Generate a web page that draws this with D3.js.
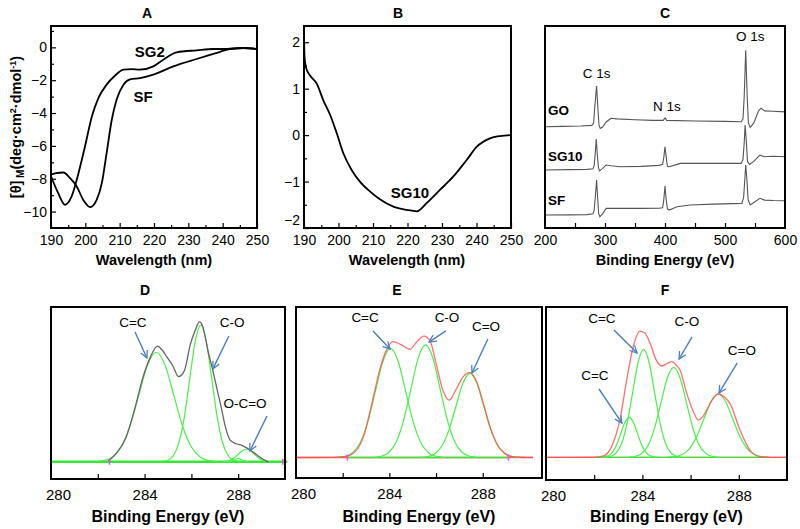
<!DOCTYPE html>
<html><head><meta charset="utf-8">
<script src="https://cdn.jsdelivr.net/npm/d3@7"></script>
<style>
body{margin:0;background:#fff}
text{font-family:"Liberation Sans",Arial,Helvetica,sans-serif;fill:#000}
</style>
</head><body>
<svg id="c" width="800" height="529"></svg>
<script>
// ---------------- DATA ----------------
// Panel A: CD spectra
const wavelengthTicks = [190,200,210,220,230,240,250];
const wavelengthMinor = [195,205,215,225,235,245];
const aYTicks = [-10,-8,-6,-4,-2,0];
const aYMinor = [-9,-7,-5,-3,-1,1];
const cdSF = [[190,-7.76],[191.5,-7.66],[193.6,-7.62],[195.5,-7.95],[197.5,-8.47],[199.4,-9.29],[201.4,-9.73],[203.3,-9.29],[204.8,-8.27],[206.2,-6.44],[207.7,-4.41],[209.1,-3.19],[211.1,-2.27],[213.0,-1.95],[215.9,-1.87],[219.8,-1.66],[225.6,-1.16],[232.4,-0.71],[238.3,-0.34],[242.1,-0.1],[246.0,-0.04],[250,-0.1]];
const cdSG2 = [[190,-7.85],[192.1,-8.88],[194.1,-9.59],[196.0,-9.08],[198.0,-7.66],[199.9,-6.04],[201.9,-4.21],[203.8,-3.09],[206.2,-2.27],[208.6,-1.73],[211.1,-1.36],[213.5,-1.32],[215.9,-1.36],[219.8,-1.16],[222.7,-0.75],[226.6,-0.3],[232.4,-0.18],[237.3,-0.1],[241.2,-0.1],[246,-0.04],[250,-0.1]];
const aLabels = [["SG2",218.8,-0.26],["SF",216.8,-3.0]];
// Panel B
const bYTicks = [-2,-1,0,1,2];
const bYMinor = [-1.5,-0.5,0.5,1.5];
const cdSG10 = [[190.0,2.2],[190.15,1.7],[190.6,1.45],[191.7,1.29],[193.7,1.11],[195.6,0.75],[197.5,0.45],[199.5,0.04],[201.4,-0.39],[203.8,-0.75],[206.2,-1.0],[209.1,-1.21],[212.0,-1.38],[215.9,-1.54],[219.8,-1.61],[222.7,-1.64],[225.6,-1.46],[229.4,-1.18],[233.3,-0.89],[237.2,-0.53],[240.1,-0.25],[243.9,-0.07],[246.8,-0.02],[250,0.0]];
const bLabels = [["SG10",220.7,-1.24]];
// Panel C: XPS survey
const surveyTicks = [250,300,350,400,450,500,550];
const surveyLabelTicks = [200,300,400,500,600];
const surveyGO = [[200,50.1],[230,50.3],[260,50.5],[278,50.8],[281,52],[283,60],[286,70.3],[288,60],[290,51],[292,49.3],[296,50],[302,52.5],[310,54.3],[320,54],[350,53.6],[380,53.3],[397,53.3],[400,54.5],[403,53.3],[450,53],[500,52.8],[527,52.6],[530,54],[532,65],[534.5,88],[537,65],[539,52],[542,49.8],[548,52],[556,58],[560,59.3],[566,58],[580,57.8],[600,57.5]];
const surveySG10 = [[200,28.7],[240,28.9],[270,29],[280,29.3],[282,31],[284,38],[285.5,44.1],[287,37],[289,30],[291,28.3],[296,29.5],[302,31.2],[310,30.8],[325,30.3],[360,30.5],[390,31],[396,31.5],[398,35],[400,40.2],[402,35],[404,30.5],[407,30.3],[420,31.5],[425,32],[460,32],[492,32],[527,32],[530,34],[532,42],[533.5,51],[535.5,43],[537.5,33],[541,31.5],[548,33],[558,36.1],[565,35.3],[580,35.5],[600,35.3]];
const surveySF = [[200,6.4],[240,6.5],[270,6.6],[280,7],[282,9],[284,16],[286,23.8],[287.5,16],[289.5,7],[291.5,5.6],[296,7],[302,9.7],[310,9.8],[325,9.7],[360,9.7],[390,9.8],[396,10],[398,14],[400,20.8],[402,14],[404,9.5],[407,8.9],[420,10.5],[442,11.4],[480,11.8],[528,12.2],[531,15],[533,24],[534.5,31.2],[536.5,24],[538.5,14],[542,11.4],[550,13],[558,14.7],[566,13.8],[580,13.6],[600,13.5]];
const surveyNames = [["GO",205,58.4],["SG10",205,35.6],["SF",205,13.9]];
const surveyPeaks = [["C 1s",286,76.7],["N 1s",403,60.4],["O 1s",542,95]];
// Panels D-F: C1s high resolution
const hrTicks = [282,284,286,288];
const hrLabelTicks = [280,284,288];
// D
const dData = [[282.45,10.3],[282.8,15],[283.2,24],[283.6,42],[283.95,60],[284.25,71],[284.55,77.3],[284.75,75],[284.95,71],[285.2,66],[285.45,59.5],[285.7,63],[285.95,78],[286.15,86],[286.35,91.5],[286.5,88],[286.7,75],[286.9,64],[287.1,52],[287.3,40],[287.45,30.4],[287.65,22.7],[287.9,20.5],[288.1,19.8],[288.3,18.5],[288.5,16.9],[288.75,14.5],[288.95,12.5],[289.15,10.8],[289.3,9.9]];
const dCC = [[281.875,10.1],[282.25,10.7],[282.625,12.8],[283.0,18.6],[283.375,30.7],[283.75,48.6],[284.125,66.2],[284.5,73.7],[284.875,66.2],[285.25,48.6],[285.625,30.7],[286.0,18.6],[286.375,12.8],[286.75,10.7],[287.125,10.1]];
const dCO = [[284.755,10.2],[284.99,10.9],[285.225,13.5],[285.46,20.8],[285.695,35.8],[285.93,58.2],[286.165,80.2],[286.4,89.5],[286.635,80.2],[286.87,58.2],[287.105,35.8],[287.34,20.8],[287.575,13.5],[287.81,10.9],[288.045,10.2]];
const dOCO = [[287.33,10.1],[287.5,10.3],[287.67,11],[287.84,12.4],[288.01,14.4],[288.18,16.4],[288.35,17.3],[288.52,16.4],[288.69,14.4],[288.86,12.4],[289.03,11],[289.2,10.3],[289.37,10.1]];
const dSmall = [[287.55,10],[287.7,10.3],[287.85,11.2],[288.0,12],[288.15,11.2],[288.3,10.3],[288.45,10]];
const dBaseline = [[280,10],[290.1,10]];
const dMarkers = [[282.5,10],[289.9,10]];
const dAnnot = [["C=C",283.5,91.3,283.59,85.5,284.1,70.3],["C-O",287.74,91.3,287.6,83.1,286.92,64],["O-C=O",288.29,44.2,289.23,36.6,288.5,16.3]];
// E
const eCC = [[281.775,12.1],[282.1,12.7],[282.425,14.8],[282.75,20.6],[283.075,32.7],[283.4,50.7],[283.725,68.3],[284.05,75.8],[284.375,68.3],[284.7,50.7],[285.025,32.7],[285.35,20.6],[285.675,14.8],[286.0,12.7],[286.325,12.1]];
const eCO = [[283.345,12.1],[283.66,12.7],[283.975,14.9],[284.29,20.9],[284.605,33.4],[284.92,51.9],[285.235,70.1],[285.55,77.8],[285.865,70.1],[286.18,51.9],[286.495,33.4],[286.81,20.9],[287.125,14.9],[287.44,12.7],[287.755,12.1]];
const eCdO = [[285.35,12.1],[285.65,12.5],[285.95,14.2],[286.25,18.7],[286.55,28.0],[286.85,41.8],[287.15,55.4],[287.45,61.2],[287.75,55.4],[288.05,41.8],[288.35,28.0],[288.65,18.7],[288.95,14.2],[289.25,12.5],[289.55,12.1]];
const eEnvelope = [[280,12],[281.6,12.1],[282.15,12.6],[282.6,16.4],[282.9,24.5],[283.25,43.5],[283.6,64],[283.9,75.5],[284.15,79.7],[284.5,78],[284.88,75.3],[285.2,80],[285.48,83],[285.75,80],[286.0,67],[286.3,51],[286.57,45.5],[286.85,51.5],[287.15,59],[287.45,61.8],[287.75,56],[288.05,42.5],[288.35,28.5],[288.65,19],[288.95,14.4],[289.3,12.5],[290.15,12]];
const eBaseline = [[282.2,12],[289.1,12]];
const eMarkers = [[282.2,12],[289.1,12]];
const eAnnot = [["C=C",282.96,94.2,283.3,86,284.03,75.4],["C-O",286.47,94.2,286.42,86,285.7,79.5],["C=O",288.14,88.9,288.22,81.3,287.54,61.4]];
// F
const fCC1 = [[282.26,13.15],[282.43,13.4],[282.60,14.1],[282.77,16.2],[282.94,20.6],[283.11,27.1],[283.28,33.5],[283.45,36.2],[283.62,33.5],[283.79,27.1],[283.96,20.6],[284.13,16.2],[284.30,14.1],[284.47,13.4],[284.64,13.15]];
const fCC2 = [[282.475,13.2],[282.7,13.8],[282.925,15.8],[283.15,21.5],[283.375,33.4],[283.6,50.9],[283.825,68.2],[284.05,75.5],[284.275,68.2],[284.5,50.9],[284.725,33.4],[284.95,21.5],[285.175,15.8],[285.4,13.8],[285.625,13.2]];
const fCO = [[283.445,13.2],[283.71,13.7],[283.975,15.4],[284.24,20.1],[284.505,30.0],[284.77,44.6],[285.035,59.0],[285.3,65.1],[285.565,59.0],[285.83,44.6],[286.095,30.0],[286.36,20.1],[286.625,15.4],[286.89,13.7],[287.155,13.2]];
const fCdO = [[285.05,13.2],[285.35,13.5],[285.65,14.7],[285.95,18.05],[286.25,25.0],[286.55,35.3],[286.85,45.4],[287.15,49.7],[287.45,45.4],[287.75,35.3],[288.05,25.0],[288.35,18.05],[288.65,14.7],[288.95,13.5],[289.25,13.2]];
const fEnvelope = [[280,13.1],[282.0,13.2],[282.4,14],[282.72,19.3],[283.07,35],[283.35,58],[283.62,77],[283.9,86],[284.1,85],[284.32,79],[284.55,70],[284.8,65.9],[285.05,67.5],[285.21,68.4],[285.4,66.5],[285.56,63.6],[285.84,50.1],[286.1,40],[286.32,34.7],[286.5,36.5],[286.67,40.5],[286.9,46.5],[287.15,49.7],[287.4,48],[287.63,44.3],[288.05,28.9],[288.46,17.3],[288.88,13.5],[289.3,13.1],[290,13.1]];
const fBaseline = [[282.0,13.1],[288.9,13.1]];
const fAnnot = [["C=C",282.32,93.6,282.82,86.7,283.78,73.4],["C=C",282.03,60.7,282.2,52.6,283.15,32.9],["C-O",285.85,91.9,286.06,82.7,285.52,69.9],["C=O",288.13,75.1,287.93,67.6,287.18,50.3]];

// ---------------- DRAW ----------------
const svg = d3.select("#c");
const FONT = '"Liberation Sans",Arial,Helvetica,sans-serif';
const defs = svg.append("defs");
defs.append("marker").attr("id","ah").attr("viewBox","0 0 10 10").attr("refX",9).attr("refY",5)
  .attr("markerWidth",9).attr("markerHeight",9).attr("markerUnits","userSpaceOnUse").attr("orient","auto")
  .append("path").attr("d","M1,1 L9,5 L1,9").attr("fill","none").attr("stroke","#4a7ebf").attr("stroke-width",1.4);

function mkLine(x,y,curve){return d3.line().x(d=>x(d[0])).y(d=>y(d[1])).curve(curve||d3.curveMonotoneX);}

function frame(g,x,y){
  const [x0,x1]=x.range(), [y0,y1]=y.range();
  g.append("rect").attr("x",x0).attr("y",y1).attr("width",x1-x0).attr("height",y0-y1)
   .attr("fill","none").attr("stroke","#000").attr("stroke-width",2);
}
function bottomAxis(g,x,y,vals,len,fmt,fs,pad){
  const ax=d3.axisBottom(x).tickValues(vals).tickSizeInner(-len).tickSizeOuter(0).tickPadding(pad).tickFormat(fmt);
  const a=g.append("g").attr("transform",`translate(0,${y.range()[0]})`).call(ax);
  a.select(".domain").remove();
  a.selectAll("line").attr("stroke","#000").attr("stroke-width",1.2);
  a.selectAll("text").attr("font-size",fs).attr("font-family",FONT).attr("fill","#000");
  return a;
}
function leftAxis(g,x,y,vals,len,fmt,fs,pad){
  const ax=d3.axisLeft(y).tickValues(vals).tickSizeInner(-len).tickSizeOuter(0).tickPadding(pad).tickFormat(fmt);
  const a=g.append("g").attr("transform",`translate(${x.range()[0]},0)`).call(ax);
  a.select(".domain").remove();
  a.selectAll("line").attr("stroke","#000").attr("stroke-width",1.2);
  a.selectAll("text").attr("font-size",fs).attr("font-family",FONT).attr("fill","#000");
  return a;
}
function title(g,t,x,y,fs){g.append("text").attr("x",x).attr("y",y).attr("text-anchor","middle").attr("font-weight","bold").attr("font-size",fs).text(t);}

// ---- Panel A
(function(){
  const g=svg.append("g");
  const x=d3.scaleLinear([190,250],[51,257]);
  const y=d3.scaleLinear([-11,1.3],[228,26]);
  bottomAxis(g,x,y,wavelengthTicks,5,d3.format("d"),14,7);
  bottomAxis(g,x,y,wavelengthMinor,3,()=>"",14,7);
  leftAxis(g,x,y,aYTicks,5,d3.format("d"),14,4);
  leftAxis(g,x,y,aYMinor,3,()=>"",14,4);
  const ln=mkLine(x,y);
  [cdSF,cdSG2].forEach(s=>g.append("path").attr("d",ln(s)).attr("fill","none").attr("stroke","#000").attr("stroke-width",1.8));
  aLabels.forEach(l=>g.append("text").attr("x",x(l[1])).attr("y",y(l[2])).attr("dy","0.36em").attr("text-anchor","middle").attr("font-weight","bold").attr("font-size",15).text(l[0]));
  frame(g,x,y);
  title(g,"A",147,18,14);
  title(g,"Wavelength (nm)",154,265,14.5);
  const t=g.append("text").attr("transform","translate(21,127) rotate(-90)").attr("text-anchor","middle").attr("font-weight","bold").attr("font-size",14.5);
  t.append("tspan").text("[θ]");
  t.append("tspan").attr("font-size",10).attr("dy",3).text(" M");
  t.append("tspan").attr("dy",-3).text("(deg·cm");
  t.append("tspan").attr("font-size",9).attr("dy",-5).text("2");
  t.append("tspan").attr("dy",5).text("·dmol");
  t.append("tspan").attr("font-size",9).attr("dy",-5).text("-1");
  t.append("tspan").attr("dy",5).text(")");
})();

// ---- Panel B
(function(){
  const g=svg.append("g");
  const x=d3.scaleLinear([190,250],[304,511]);
  const y=d3.scaleLinear([-2,2.35],[228,26]);
  bottomAxis(g,x,y,wavelengthTicks,5,d3.format("d"),14,7);
  bottomAxis(g,x,y,wavelengthMinor,3,()=>"",14,7);
  const la=leftAxis(g,x,y,bYTicks,5,d3.format("d"),14,4);
  la.selectAll(".tick").filter(d=>d===-2).select("text").attr("dy","-0.25em");
  leftAxis(g,x,y,bYMinor,3,()=>"",14,4);
  const ln=mkLine(x,y);
  g.append("path").attr("d",ln(cdSG10)).attr("fill","none").attr("stroke","#000").attr("stroke-width",1.8);
  bLabels.forEach(l=>g.append("text").attr("x",x(l[1])).attr("y",y(l[2])).attr("dy","0.36em").attr("text-anchor","middle").attr("font-weight","bold").attr("font-size",15).text(l[0]));
  frame(g,x,y);
  title(g,"B",398,18,14);
  title(g,"Wavelength (nm)",407,265,14.5);
})();

// ---- Panel C
(function(){
  const g=svg.append("g");
  const x=d3.scaleLinear([200,600],[545,785]);
  const y=d3.scaleLinear([0,100],[228,26]);
  bottomAxis(g,x,y,surveyLabelTicks,0,d3.format("d"),14,7);
  bottomAxis(g,x,y,surveyTicks,5,()=>"",14,7);
  const ln=mkLine(x,y,d3.curveLinear);
  [surveyGO,surveySG10,surveySF].forEach(s=>g.append("path").attr("d",ln(s)).attr("fill","none").attr("stroke","#555").attr("stroke-width",1.1));
  surveyNames.forEach(l=>g.append("text").attr("x",x(l[1])).attr("y",y(l[2])).attr("dy","0.36em").attr("font-weight","bold").attr("font-size",13.5).text(l[0]));
  surveyPeaks.forEach(l=>g.append("text").attr("x",x(l[1])).attr("y",y(l[2])).attr("dy","0.36em").attr("text-anchor","middle").attr("font-size",13.5).text(l[0]));
  frame(g,x,y);
  title(g,"C",665,18,14);
  title(g,"Binding Energy (eV)",665,265,14.5);
})();

// ---- Panels D-F
function hrPanel(cfg){
  const g=svg.append("g");
  const x=d3.scaleLinear(cfg.dom,cfg.xr);
  const y=d3.scaleLinear([0,100],cfg.yr);
  bottomAxis(g,x,y,hrTicks,5,()=>"",15,10);
  const b=bottomAxis(g,x,y,hrLabelTicks,0,d3.format("d"),15,10);
  b.selectAll(".tick").filter(d=>d===280).select("text").attr("dx",7);
  const ln=mkLine(x,y);
  const lnL=mkLine(x,y,d3.curveLinear);
  if(cfg.redBase) g.append("path").attr("d",lnL([[cfg.dom[0],cfg.base],[cfg.redEnd,cfg.base]])).attr("fill","none").attr("stroke","#ff5a5a").attr("stroke-width",1.3);
  g.append("path").attr("d",lnL(cfg.baseline)).attr("fill","none").attr("stroke","#33e833").attr("stroke-width",cfg.baseW);
  cfg.comps.forEach(s=>g.append("path").attr("d",ln(s)).attr("fill","none").attr("stroke","#4ded4d").attr("stroke-width",1.2));
  if(cfg.env) g.append("path").attr("d",ln(cfg.env)).attr("fill","none").attr("stroke","#ff4e4e").attr("stroke-opacity",0.8).attr("stroke-width",1.3);
  if(cfg.data) g.append("path").attr("d",ln(cfg.data)).attr("fill","none").attr("stroke","#666").attr("stroke-width",1.3);
  (cfg.markers||[]).forEach(m=>g.append("line").attr("x1",x(m[0])).attr("x2",x(m[0])).attr("y1",y(m[1])-3).attr("y2",y(m[1])+3).attr("stroke","#ff44ff").attr("stroke-width",1.5));
  cfg.annot.forEach(a=>{
    g.append("text").attr("x",x(a[1])).attr("y",y(a[2])).attr("dy","0.36em").attr("text-anchor","middle").attr("font-size",13.5).text(a[0]);
    g.append("line").attr("x1",x(a[3])).attr("y1",y(a[4])).attr("x2",x(a[5])).attr("y2",y(a[6])).attr("stroke","#4a7ebf").attr("stroke-width",1.4).attr("marker-end","url(#ah)");
  });
  frame(g,x,y);
  title(g,cfg.letter,cfg.lx,295,14);
  title(g,"Binding Energy (eV)",(cfg.xr[0]+cfg.xr[1])/2,522,16);
}
hrPanel({letter:"D",lx:145,dom:[280,290],xr:[51,285],yr:[479,307],base:10,baseline:dBaseline,baseW:2.6,comps:[dCC,dCO,dOCO,dSmall],data:dData,markers:dMarkers,annot:dAnnot});
hrPanel({letter:"E",lx:397,dom:[280,290.54],xr:[296,542],yr:[478,307],base:12,redBase:true,redEnd:290.15,baseline:eBaseline,baseW:1.3,comps:[eCC,eCO,eCdO],env:eEnvelope,markers:eMarkers,annot:eAnnot});
hrPanel({letter:"F",lx:665,dom:[280,290],xr:[546,787],yr:[480,307],base:13.1,redBase:true,redEnd:290,baseline:fBaseline,baseW:1.3,comps:[fCC1,fCC2,fCO,fCdO],env:fEnvelope,annot:fAnnot});
</script>
</body></html>
